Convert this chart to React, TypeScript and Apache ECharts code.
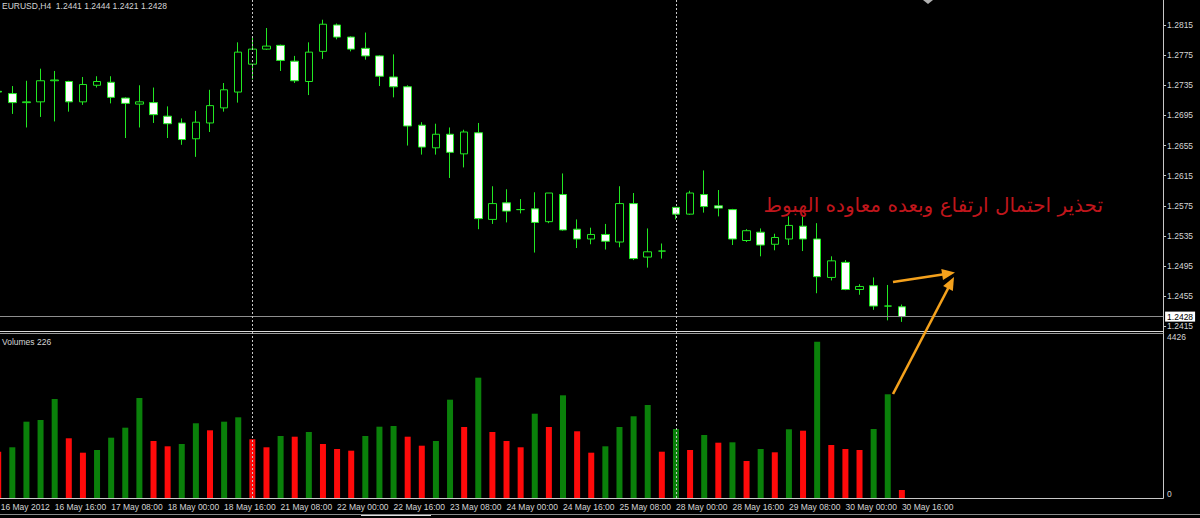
import React, { useEffect, useRef } from 'react';
import * as echarts from 'echarts';

// ---- data (EURUSD, H4) ----
const symbolName = 'EURUSD,H4';
const tickLabels = [
  '16 May 2012', '16 May 16:00', '17 May 08:00', '18 May 00:00', '18 May 16:00',
  '21 May 08:00', '22 May 00:00', '22 May 16:00', '23 May 08:00', '24 May 00:00',
  '24 May 16:00', '25 May 08:00', '28 May 00:00', '28 May 16:00', '29 May 08:00',
  '30 May 00:00', '30 May 16:00',
];
const opens = [
  1.2727, 1.2724, 1.2712, 1.2713, 1.2741, 1.2740, 1.2713, 1.2735, 1.2739, 1.2718,
  1.2710, 1.2712, 1.2694, 1.2685, 1.2664, 1.2685, 1.2705, 1.2726, 1.2763, 1.2783,
  1.2788, 1.2767, 1.2740, 1.2780, 1.2815, 1.2799, 1.2784, 1.2774, 1.2746, 1.2733,
  1.2682, 1.2652, 1.2670, 1.2644, 1.2672, 1.2557, 1.2579, 1.2570, 1.2571, 1.2554,
  1.2590, 1.2544, 1.2531, 1.2537, 1.2527, 1.2578, 1.2507, 1.2515, 1.2573, 1.2564,
  1.2590, 1.2575, 1.2570, 1.2529, 1.2540, 1.2524, 1.2531, 1.2548, 1.2531, 1.2480,
  1.2500, 1.2464, 1.2469, 1.2442, 1.2441,
];
const highs = [
  1.2734, 1.2734, 1.2741, 1.2757, 1.2754, 1.2741, 1.2746, 1.2747, 1.2747, 1.2719,
  1.2735, 1.2732, 1.2707, 1.2691, 1.2701, 1.2729, 1.2738, 1.2792, 1.2800, 1.2811,
  1.2789, 1.2774, 1.2792, 1.2822, 1.2817, 1.2800, 1.2805, 1.2775, 1.2776, 1.2735,
  1.2686, 1.2684, 1.2679, 1.2676, 1.2685, 1.2601, 1.2597, 1.2584, 1.2593, 1.2592,
  1.2618, 1.2557, 1.2546, 1.2551, 1.2601, 1.2592, 1.2545, 1.2525, 1.2573, 1.2595,
  1.2622, 1.2596, 1.2571, 1.2544, 1.2545, 1.2538, 1.2561, 1.2561, 1.2552, 1.2508,
  1.2503, 1.2471, 1.2480, 1.2470, 1.2444,
];
const lows = [
  1.2719, 1.2697, 1.2679, 1.2693, 1.2687, 1.2700, 1.2709, 1.2732, 1.2711, 1.2665,
  1.2679, 1.2685, 1.2665, 1.2656, 1.2640, 1.2673, 1.2700, 1.2712, 1.2743, 1.2782,
  1.2754, 1.2738, 1.2722, 1.2770, 1.2796, 1.2780, 1.2769, 1.2734, 1.2719, 1.2655,
  1.2643, 1.2643, 1.2612, 1.2626, 1.2544, 1.2551, 1.2553, 1.2565, 1.2513, 1.2552,
  1.2542, 1.2519, 1.2524, 1.2517, 1.2520, 1.2503, 1.2493, 1.2505, 1.2557, 1.2563,
  1.2566, 1.2561, 1.2523, 1.2527, 1.2508, 1.2516, 1.2523, 1.2515, 1.2459, 1.2476,
  1.2463, 1.2457, 1.2437, 1.2423, 1.2421,
];
const closes = [
  1.2726, 1.2712, 1.2713, 1.2741, 1.2742, 1.2713, 1.2736, 1.2740, 1.2719, 1.2711,
  1.2713, 1.2696, 1.2684, 1.2663, 1.2686, 1.2708, 1.2729, 1.2779, 1.2783, 1.2787,
  1.2768, 1.2741, 1.2779, 1.2816, 1.2799, 1.2783, 1.2774, 1.2747, 1.2733, 1.2681,
  1.2653, 1.2670, 1.2646, 1.2673, 1.2558, 1.2578, 1.2568, 1.2570, 1.2553, 1.2592,
  1.2543, 1.2531, 1.2537, 1.2528, 1.2578, 1.2505, 1.2514, 1.2515, 1.2564, 1.2592,
  1.2574, 1.2572, 1.2531, 1.2542, 1.2523, 1.2533, 1.2549, 1.2531, 1.2481, 1.2502,
  1.2464, 1.2468, 1.2442, 1.2442, 1.2428,
];
const volumes = [
  1311, 1436, 2161, 2209, 2804, 1691, 1283, 1359, 1708, 1991,
  2832, 1614, 1464, 1529, 2116, 1917, 2161, 2285, 1662, 1436,
  1756, 1736, 1869, 1529, 1388, 1340, 1756, 2019, 2039, 1736,
  1481, 1614, 2784, 2011, 3407, 1869, 1614, 1436, 2387, 2011,
  2908, 1889, 1283, 1464, 2011, 2314, 2634, 1311, 1954, 1359,
  1784, 1566, 1577, 1048, 1388, 1294, 1946, 1906, 4426, 1501,
  1388, 1359, 1954, 2937, 226,
];
const weekStarts = [18, 48];
const priceAxisMin = 1.2415;
const priceAxisMax = 1.2855;
const priceAxisStep = 0.004;
const volumeAxisTop = 4426;
const noteText = 'تحذير احتمال ارتفاع وبعده معاوده الهبوط';

// ---- layout / style ----
const FONT = 'Liberation Sans, Arial, sans-serif';
const SLOTS = 83;
const SLOT_W = 14.12;
const PLOT_LEFT = -8.86;
const PLOT_RIGHT = 1163;
const LABEL_COLOR = '#d4d4d4';
const FRAME = '#c8c8c8';
const CANDLE_GREEN = '#22e822';
const VOL_GREEN = '#0a800a';
const VOL_RED = '#ff0a0a';
const ORANGE = '#f4a11c';
const VOL_BOTTOM = 498;
const VOL_TOPPX = 341.7;

function arrow(x1: number, y1: number, x2: number, y2: number) {
  const dx = x2 - x1, dy = y2 - y1;
  const L = Math.hypot(dx, dy);
  const ux = dx / L, uy = dy / L;
  const len = 13, half = 5.5;
  const bx = x2 - ux * len, by = y2 - uy * len;
  return [
    { type: 'line', shape: { x1, y1, x2: bx + ux * 2, y2: by + uy * 2 }, style: { stroke: ORANGE, lineWidth: 2.6 }, z: 50 },
    { type: 'polygon', shape: { points: [[x2, y2], [bx - uy * half, by + ux * half], [bx + uy * half, by - ux * half]] }, style: { fill: ORANGE }, z: 50 },
  ];
}

export default function App() {
  const ref = useRef<HTMLDivElement>(null);
  useEffect(() => {
    document.body.style.margin = '0';
    document.body.style.background = '#000';
    const chart = echarts.init(ref.current!, undefined, { renderer: 'svg' });
    const cats = Array.from({ length: SLOTS }, (_, i) => String(i));
    const tickFn = (idx: number) => idx % 4 === 0 && idx / 4 < tickLabels.length;
    const candleData = opens.map((o, i) => [o, closes[i], lows[i], highs[i]]);
    const volData = volumes.map((v, i) => ({
      value: v,
      itemStyle: { color: i > 0 && v > volumes[i - 1] ? VOL_GREEN : VOL_RED },
    }));
    const last = opens.length - 1;
    const header = `${symbolName}  ${opens[last].toFixed(4)} ${highs[last].toFixed(4)} ${lows[last].toFixed(4)} ${closes[last].toFixed(4)}`;
    const volAxisMax = volumeAxisTop * VOL_BOTTOM / (VOL_BOTTOM - VOL_TOPPX);
    const gridW = SLOTS * SLOT_W;
    const priceTop = -5.14, priceH = 331.54;

    const option: any = {
      animation: false,
      backgroundColor: '#000',
      textStyle: { fontFamily: FONT },
      grid: [
        { left: PLOT_LEFT, top: priceTop, width: gridW, height: priceH, outerBoundsMode: 'none', containLabel: false },
        { left: PLOT_LEFT, top: 0, width: gridW, height: VOL_BOTTOM, outerBoundsMode: 'none', containLabel: false },
      ],
      xAxis: [
        { type: 'category', gridIndex: 0, data: cats, show: false },
        {
          type: 'category', gridIndex: 1, data: cats,
          axisLine: { lineStyle: { color: FRAME, width: 1 } },
          axisTick: { alignWithLabel: true, length: 3, interval: tickFn, lineStyle: { color: FRAME } },
          axisLabel: {
            interval: tickFn, align: 'left', color: LABEL_COLOR, fontSize: 8.5, margin: 4,
            formatter: (_v: string, i: number) => {
              const t = (i % 4 === 0 && tickLabels[i / 4]) || '';
              return i === 0 ? `{f|${t}}` : t;
            },
            rich: { f: { padding: [0, 0, 0, 2.5], color: LABEL_COLOR, fontSize: 8.5, fontFamily: FONT } },
          },
          splitLine: { show: false },
        },
      ],
      yAxis: [
        {
          type: 'value', gridIndex: 0, position: 'right',
          min: priceAxisMin, max: priceAxisMax, interval: priceAxisStep,
          axisLine: { show: false },
          axisTick: { show: true, length: 3, lineStyle: { color: FRAME } },
          axisLabel: {
            color: LABEL_COLOR, fontSize: 8.5, margin: 4,
            formatter: (v: number) => (v > 1.284 ? '' : v.toFixed(4)),
          },
          splitLine: { show: false },
        },
        {
          type: 'value', gridIndex: 1, position: 'right',
          min: 0, max: volAxisMax, interval: volumeAxisTop,
          axisLine: { show: false },
          axisTick: { show: false },
          axisLabel: {
            color: LABEL_COLOR, fontSize: 8.5, margin: 4, verticalAlign: 'bottom',
            formatter: (v: number) => (v === 0 || Math.abs(v - volumeAxisTop) < 1 ? String(Math.round(v)) : ''),
          },
          splitLine: { show: false },
        },
      ],
      series: [
        {
          type: 'candlestick', xAxisIndex: 0, yAxisIndex: 0, data: candleData, barWidth: 8,
          itemStyle: {
            color: '#000', color0: '#ffffff',
            borderColor: CANDLE_GREEN, borderColor0: CANDLE_GREEN, borderWidth: 1,
          },
          markLine: {
            silent: true, symbol: 'none', animation: false, precision: 4,
            data: [{
              yAxis: closes[last],
              lineStyle: { color: '#8e8e8e', type: 'solid', width: 1 },
              label: {
                show: true, position: 'end', distance: 2, formatter: closes[last].toFixed(4),
                backgroundColor: '#ffffff', color: '#000', fontSize: 8.5, padding: [1, 2, 0, 2],
                fontFamily: FONT,
              },
            }],
          },
          z: 3,
        },
        {
          type: 'bar', xAxisIndex: 1, yAxisIndex: 1, data: volData, barWidth: 6,
          markLine: {
            silent: true, symbol: 'none', animation: false,
            lineStyle: { color: '#c8c8c8', type: [2, 2], width: 1 },
            label: { show: false },
            data: weekStarts.map((w) => ({ xAxis: w })),
          },
          z: 2,
        },
      ],
      graphic: [
        { type: 'text', x: 2, y: 1, style: { text: header, fill: LABEL_COLOR, font: `8.5px ${FONT}` } },
        { type: 'text', x: 2, y: 337, style: { text: `Volumes ${volumes[last]}`, fill: LABEL_COLOR, font: `8.5px ${FONT}` } },
        // frame
        { type: 'line', shape: { x1: PLOT_RIGHT + 0.5, y1: 0, x2: PLOT_RIGHT + 0.5, y2: VOL_BOTTOM + 0.5 }, style: { stroke: FRAME, lineWidth: 1 } },
        { type: 'line', shape: { x1: 0, y1: 331.5, x2: PLOT_RIGHT + 0.5, y2: 331.5 }, style: { stroke: '#d8d8d8', lineWidth: 1 } },
        { type: 'line', shape: { x1: 0, y1: 333.5, x2: PLOT_RIGHT + 0.5, y2: 333.5 }, style: { stroke: '#9a9a9a', lineWidth: 1 } },
        { type: 'line', shape: { x1: 0, y1: 514.5, x2: 1200, y2: 514.5 }, style: { stroke: '#8a8a8a', lineWidth: 1 } },
        { type: 'line', shape: { x1: 361, y1: 515.5, x2: 431, y2: 515.5 }, style: { stroke: '#e0e0e0', lineWidth: 1 } },
        { type: 'polygon', shape: { points: [[923, 0], [933, 0], [928, 4]] }, style: { fill: '#b0b0b0' } },
        // annotation
        {
          type: 'text', x: 1103, y: 205, z: 60,
          style: { text: noteText, fill: '#c0161c', font: '20px DejaVu Sans', align: 'right', verticalAlign: 'middle' },
        },
        ...arrow(893, 282, 955, 272.5),
        ...arrow(893, 394, 954, 277),
      ],
    };
    chart.setOption(option);
    return () => chart.dispose();
  }, []);
  return <div ref={ref} style={{ width: 1200, height: 518, background: '#000' }} />;
}
